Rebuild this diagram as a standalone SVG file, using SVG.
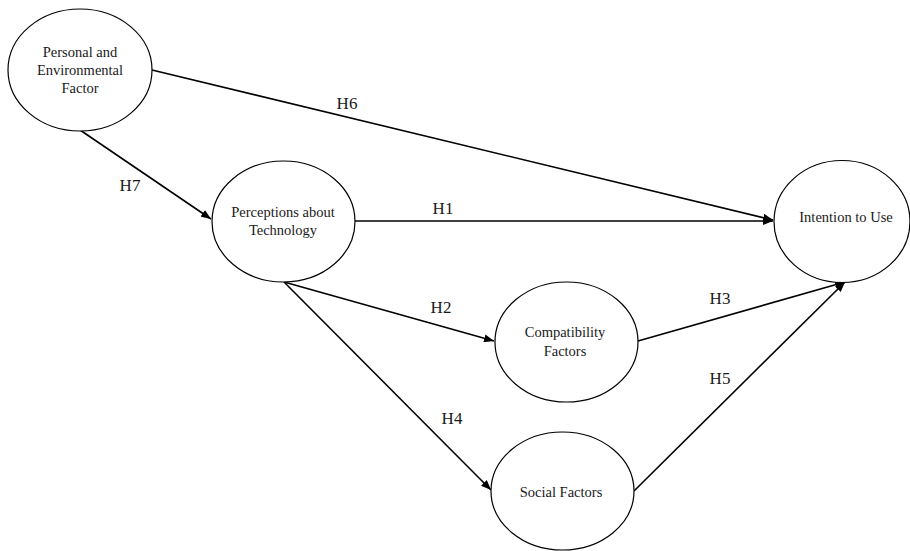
<svg xmlns="http://www.w3.org/2000/svg" width="910" height="551" viewBox="0 0 910 551">
<style>
.node ellipse{fill:#fff;stroke:#000;stroke-width:1.2}
.node text{font-family:"Liberation Serif","Times New Roman",serif;font-size:14.5px;fill:#1a1a1a;text-anchor:middle}
.edge{stroke:#000;stroke-width:1.6;fill:none;marker-end:url(#ah)}
.lbl{font-family:"Liberation Serif","Times New Roman",serif;font-size:17px;fill:#1a1a1a;text-anchor:middle}
</style>
<defs>
<marker id="ah" viewBox="0 0 10 8" refX="10" refY="4" markerWidth="10" markerHeight="8" markerUnits="userSpaceOnUse" orient="auto">
<path d="M0,0 L10,4 L0,8 Z" fill="#000"/>
</marker>
</defs>
<rect width="910" height="551" fill="#fff"/>
<g id="connectors">
<line class="edge" x1="152" y1="70" x2="773" y2="220"/>
<line class="edge" x1="80" y1="130" x2="211" y2="219"/>
<line class="edge" x1="355" y1="221" x2="773" y2="221"/>
<line class="edge" x1="284" y1="282" x2="494" y2="341"/>
<line class="edge" x1="284" y1="282" x2="491" y2="490"/>
<line class="edge" x1="638" y1="341" x2="845" y2="282"/>
<line class="edge" x1="634" y1="491" x2="845" y2="282"/>
<text class="lbl" x="347" y="109">H6</text>
<text class="lbl" x="130" y="191">H7</text>
<text class="lbl" x="443" y="214">H1</text>
<text class="lbl" x="441" y="313">H2</text>
<text class="lbl" x="720" y="304">H3</text>
<text class="lbl" x="452" y="424">H4</text>
<text class="lbl" x="720" y="384">H5</text>
</g>
<g id="personal" class="node">
<ellipse cx="80" cy="70" rx="72" ry="61"/>
<text x="80" y="57">Personal and</text>
<text x="80" y="75">Environmental</text>
<text x="80" y="93">Factor</text>
</g>
<g id="perceptions" class="node">
<ellipse cx="283.5" cy="221.5" rx="71.5" ry="60.5"/>
<text x="283" y="217">Perceptions about</text>
<text x="283" y="235">Technology</text>
</g>
<g id="intention" class="node">
<ellipse cx="842" cy="221.5" rx="68" ry="61"/>
<text x="846" y="222">Intention to Use</text>
</g>
<g id="compatibility" class="node">
<ellipse cx="566.5" cy="342" rx="71.5" ry="60"/>
<text x="565" y="337">Compatibility</text>
<text x="565" y="356">Factors</text>
</g>
<g id="social" class="node">
<ellipse cx="562.5" cy="491" rx="71.5" ry="59"/>
<text x="561" y="497">Social Factors</text>
</g>
</svg>
